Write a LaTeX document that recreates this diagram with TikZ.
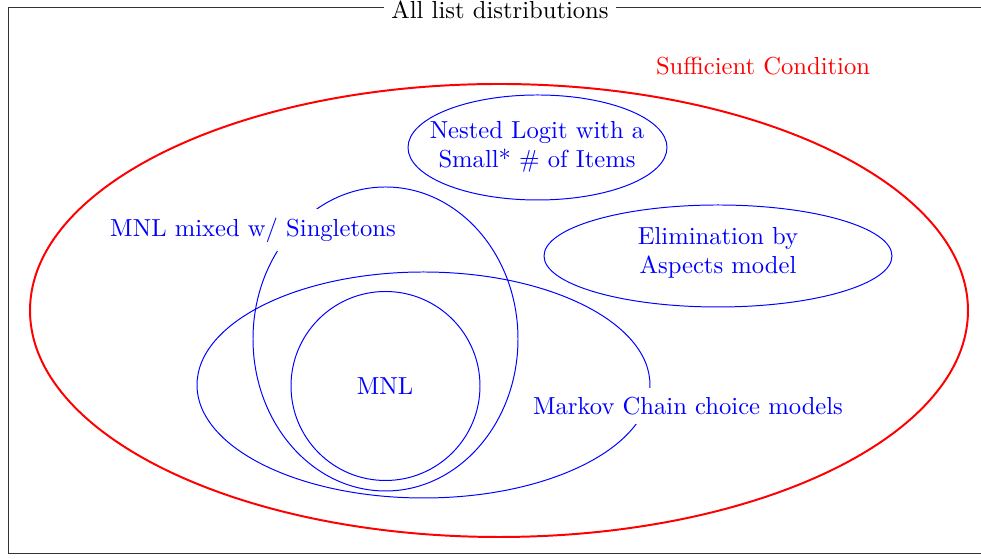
\documentclass[tikz,border=0pt]{standalone}
\usetikzlibrary{positioning}
\begin{document}
\begin{tikzpicture}[x=0.01428cm,y=-0.01428cm]
  \definecolor{kBlue}{rgb}{0,0,1}
  \definecolor{kRed}{rgb}{1,0,0}
  \tikzset{
    model/.style={color=kBlue},
    tag/.style={text=kBlue,align=center,inner sep=2pt},
    cut/.style={tag,fill=white,inner sep=3.5pt}, % label that breaks its curve
  }
  \useasboundingbox (0,0) rectangle (981,559);

  % frame
  \draw[color=black!80] (8,8) rectangle (1010,554);
  \node[fill=white,inner sep=3pt] (all) at (500,10) {All list distributions};

  % sufficient condition
  \draw[color=kRed,thick] (499,310.5) ellipse (469 and 226.5);
  \node[text=kRed] (suff) at (763,66) {Sufficient Condition};

  % models
  \draw[model] (537.5,147.5) ellipse (129.5 and 52.5);
  \draw[model] (718,256) ellipse (174 and 51);
  \draw[model] (385.5,339) ellipse (132.5 and 152);
  \draw[model] (423.5,385) ellipse (226.5 and 113);
  \draw[model] (385.5,386) circle (94.5);

  % labels
  \node[tag] (nested) at (537,147) {Nested Logit with a\\Small* \# of Items};
  \node[tag] (eba) at (718,253) {Elimination by\\Aspects model};
  \node[cut] (mixed) at (253,230) {MNL mixed w/ Singletons};
  \node[cut] (markov) at (688,406) {Markov Chain choice models};
  \node[tag] (mnl) at (385,386) {MNL};
\end{tikzpicture}
\end{document}
